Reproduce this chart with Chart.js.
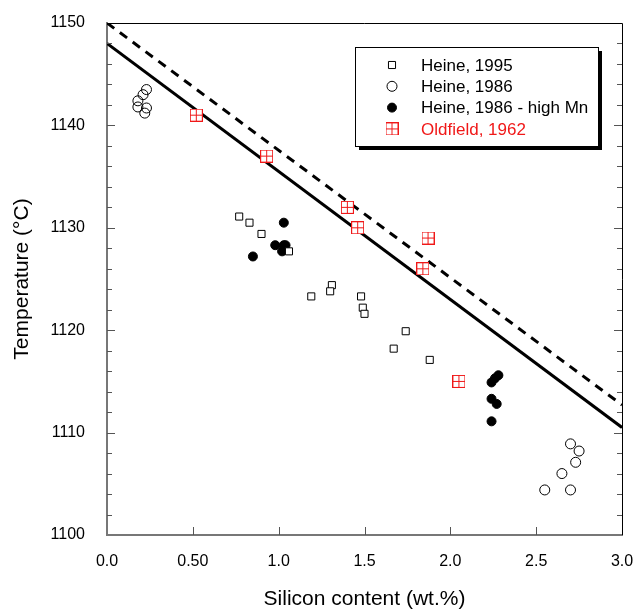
<!DOCTYPE html>
<html>
<head>
<meta charset="utf-8">
<script src="https://cdn.jsdelivr.net/npm/chart.js@4.4.0/dist/chart.umd.min.js"></script>
<style>
html,body{margin:0;padding:0;background:#fff;}
#divGrafico{width:636px;height:614px;}
</style>
</head>
<body>
<div id="divGrafico"><canvas id="graficoSilicio" width="636" height="614"></canvas></div>
<script>
const fuente = '"Liberation Sans", Arial, Helvetica, sans-serif';

// ejes
const xTickLabels = ['0.0', '0.50', '1.0', '1.5', '2.0', '2.5', '3.0'];
const yTickLabels = ['1100', '1110', '1120', '1130', '1140', '1150'];

// Heine, 1995
const heine1995X = [0.77, 0.83, 0.90, 1.06, 1.19, 1.31, 1.30, 1.48, 1.49, 1.50, 1.74, 1.67, 1.88];
const heine1995Y = [1131.1, 1130.5, 1129.4, 1127.7, 1123.3, 1124.4, 1123.8, 1123.3, 1122.2, 1121.6, 1119.9, 1118.2, 1117.1];

// Heine, 1986
const heine1986X = [0.23, 0.21, 0.18, 0.18, 0.23, 0.22, 2.70, 2.75, 2.73, 2.65, 2.55, 2.70];
const heine1986Y = [1143.5, 1143.0, 1142.4, 1141.8, 1141.7, 1141.2, 1108.9, 1108.2, 1107.1, 1106.0, 1104.4, 1104.4];

// Heine, 1986 - high Mn
const highMnX = [1.03, 0.98, 1.03, 1.04, 1.02, 0.85, 2.28, 2.26, 2.24, 2.24, 2.27, 2.24];
const highMnY = [1130.5, 1128.3, 1128.3, 1128.3, 1127.7, 1127.2, 1115.6, 1115.3, 1114.9, 1113.3, 1112.8, 1111.1];

// Oldfield, 1962
const oldfieldX = [0.52, 0.93, 1.40, 1.46, 1.84, 1.87, 2.05];
const oldfieldY = [1141.0, 1137.0, 1132.0, 1130.0, 1126.0, 1129.0, 1115.0];

// rectas
const rectaX = [0, 3];
const rectaSolidaY = [1148.0, 1110.5];
const rectaDiscontY = [1150.0, 1112.7];

const etiquetas = ['Heine, 1995', 'Heine, 1986', 'Heine, 1986 - high Mn', 'Oldfield, 1962'];

function puntos(xs, ys){
    return xs.map(function(x, i){ return { x: x, y: ys[i] }; });
}

function crearMarcador(){
    const c = document.createElement('canvas');
    c.width = 13;
    c.height = 13;
    const g = c.getContext('2d');
    g.fillStyle = '#fff';
    g.fillRect(0.5, 0.5, 12, 12);
    g.strokeStyle = '#f01818';
    g.lineWidth = 1;
    g.strokeRect(0.5, 0.5, 12, 12);
    g.beginPath();
    g.moveTo(6.5, 0.5); g.lineTo(6.5, 12.5);
    g.moveTo(0.5, 6.5); g.lineTo(12.5, 6.5);
    g.stroke();
    return c;
}
const marcadorOldfield = crearMarcador();

const estilos = [
    { pointStyle: 'rect', radius: 5, borderWidth: 1, borderColor: '#000', backgroundColor: '#fff' },
    { pointStyle: 'circle', radius: 5, borderWidth: 1, borderColor: '#000', backgroundColor: 'rgba(0,0,0,0)' },
    { pointStyle: 'circle', radius: 4.5, borderWidth: 1, borderColor: '#000', backgroundColor: '#000' },
    { pointStyle: marcadorOldfield, radius: 6, borderWidth: 1, borderColor: '#f01818', backgroundColor: '#fff' }
];

// ticks hacia dentro y marco superior/derecho
const marcoPlugin = {
    id: 'marco',
    afterDatasetsDraw(chart){
        const ctx = chart.ctx;
        const a = chart.chartArea;
        const sx = chart.scales.x, sy = chart.scales.y;
        ctx.save();
        ctx.lineWidth = 1;
        ctx.strokeStyle = '#000';
        ctx.beginPath();
        ctx.moveTo(a.left, a.top + 0.5); ctx.lineTo(a.right + 0.5, a.top + 0.5);
        ctx.lineTo(a.right + 0.5, a.bottom);
        ctx.stroke();
        ctx.beginPath();
        for (let v = 1100; v <= 1150; v += 2){
            const py = Math.round(sy.getPixelForValue(v)) + 0.5;
            const len = (v % 10 === 0) ? 8 : 5;
            if (v !== 1100 && v !== 1150){
                ctx.moveTo(a.left, py); ctx.lineTo(a.left + len, py);
                ctx.moveTo(a.right, py); ctx.lineTo(a.right - len, py);
            }
        }
        ctx.strokeStyle = '#555';
        ctx.stroke();
        ctx.beginPath();
        for (let i = 1; i < xTickLabels.length - 1; i++){
            const px = Math.round(sx.getPixelForValue(i * 0.5)) + 0.5;
            ctx.moveTo(px, a.bottom); ctx.lineTo(px, a.bottom - 8);
        }
        ctx.stroke();
        ctx.restore();
    }
};

// leyenda con sombra
const leyendaPlugin = {
    id: 'leyenda',
    afterDraw(chart){
        const ctx = chart.ctx;
        const x0 = 355, y0 = 47, w = 243, h = 99;
        ctx.save();
        ctx.fillStyle = '#000';
        ctx.fillRect(x0 + 4, y0 + 4, w, h);
        ctx.fillStyle = '#fff';
        ctx.fillRect(x0, y0, w, h);
        ctx.strokeStyle = '#000';
        ctx.lineWidth = 1;
        ctx.strokeRect(x0 + 0.5, y0 + 0.5, w, h);
        ctx.font = '17px ' + fuente;
        ctx.textBaseline = 'middle';
        ctx.textAlign = 'left';
        etiquetas.forEach(function(texto, i){
            const y = 65 + i * 21.3;
            const e = estilos[i];
            ctx.fillStyle = e.backgroundColor;
            ctx.strokeStyle = e.borderColor;
            ctx.lineWidth = e.borderWidth;
            Chart.helpers.drawPoint(ctx, { pointStyle: e.pointStyle, radius: e.radius, borderWidth: e.borderWidth, rotation: 0 }, 392, y);
            ctx.fillStyle = (i === 3) ? '#f01818' : '#000';
            ctx.fillText(texto, 421, y + 1);
        });
        ctx.restore();
    }
};

const datasets = [
    { type: 'scatter', label: etiquetas[3], data: puntos(oldfieldX, oldfieldY), order: 0,
      pointStyle: marcadorOldfield, pointRadius: 6, borderColor: '#f01818', backgroundColor: '#fff' },
    { type: 'scatter', label: etiquetas[0], data: puntos(heine1995X, heine1995Y), order: 1,
      pointStyle: 'rect', pointRadius: 5, borderWidth: 1, borderColor: '#000', backgroundColor: '#fff' },
    { type: 'scatter', label: etiquetas[1], data: puntos(heine1986X, heine1986Y), order: 2,
      pointStyle: 'circle', pointRadius: 5, borderWidth: 1, borderColor: '#000', backgroundColor: 'rgba(0,0,0,0)' },
    { type: 'scatter', label: etiquetas[2], data: puntos(highMnX, highMnY), order: 3,
      pointStyle: 'circle', pointRadius: 4.5, borderWidth: 1, borderColor: '#000', backgroundColor: '#000' },
    { type: 'line', label: 'solida', data: puntos(rectaX, rectaSolidaY), order: 4,
      borderColor: '#000', borderWidth: 3, pointRadius: 0, fill: false },
    { type: 'line', label: 'discontinua', data: puntos(rectaX, rectaDiscontY), order: 5,
      borderColor: '#000', borderWidth: 3, borderDash: [9, 7], pointRadius: 0, fill: false }
];

const options = {
    responsive: false,
    animation: false,
    layout: { padding: { top: 23, right: 14, left: 0, bottom: 0 } },
    plugins: {
        legend: { display: false },
        tooltip: { enabled: false }
    },
    scales: {
        x: {
            type: 'linear', min: 0, max: 3,
            ticks: {
                stepSize: 0.5, padding: 0, color: '#000', maxRotation: 0, autoSkip: false,
                font: { size: 16, family: fuente },
                callback: function(v){ return xTickLabels[Math.round(v * 2)]; }
            },
            grid: { display: false, drawTicks: true, tickLength: 17, tickColor: 'rgba(0,0,0,0)' },
            border: { display: true, color: '#777', width: 2 },
            title: { display: true, text: 'Silicon content (wt.%)', color: '#000',
                     font: { size: 21, family: fuente }, padding: { top: 0, bottom: 2 } },
            afterFit: function(s){ s.height = 79; }
        },
        y: {
            type: 'linear', min: 1100, max: 1150,
            ticks: {
                stepSize: 10, padding: 0, color: '#000',
                font: { size: 16, family: fuente },
                callback: function(v){ return yTickLabels[Math.round((v - 1100) / 10)]; }
            },
            grid: { display: false, drawTicks: true, tickLength: 22, tickColor: 'rgba(0,0,0,0)' },
            border: { display: true, color: '#777', width: 2 },
            title: { display: true, text: 'Temperature (°C)', color: '#000',
                     font: { size: 21, family: fuente }, padding: { top: 10, bottom: 0 } },
            afterFit: function(s){ s.width = 107; }
        }
    }
};

new Chart(document.getElementById('graficoSilicio'), {
    type: 'scatter',
    data: { datasets: datasets },
    options: options,
    plugins: [marcoPlugin, leyendaPlugin]
});
</script>
</body>
</html>
